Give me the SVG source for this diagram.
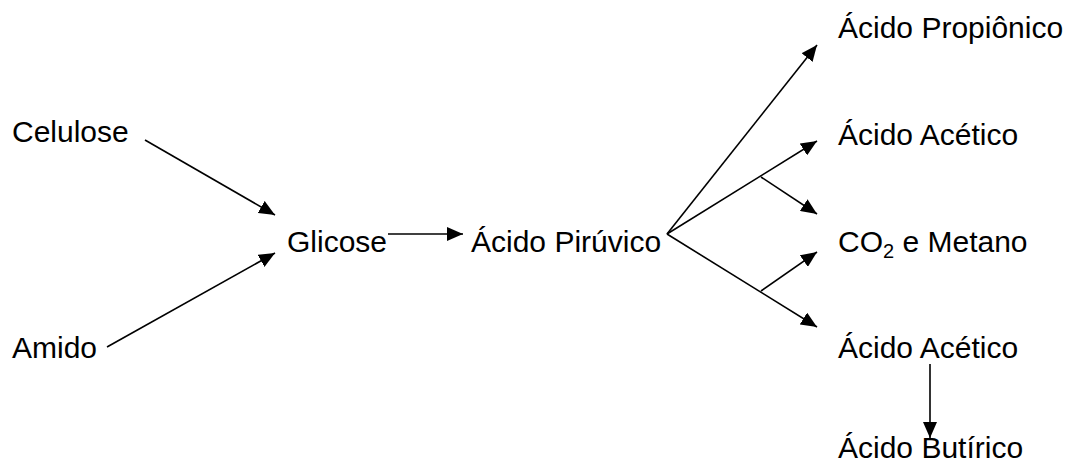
<svg xmlns="http://www.w3.org/2000/svg" width="1075" height="470" viewBox="0 0 1075 470">
<style>
text{font-family:"Liberation Sans",Arial,sans-serif;font-size:30px;fill:#000}
.c line{stroke:#000;stroke-width:1.6;marker-end:url(#a)}
</style>
<defs>
<marker id="a" markerUnits="userSpaceOnUse" markerWidth="16" markerHeight="14" viewBox="0 0 16 14" refX="16" refY="7" orient="auto">
<path d="M0,0 L16,7 L0,14 Z" fill="#000"/>
</marker>
</defs>
<rect width="1075" height="470" fill="#fff"/>
<g id="celulose"><text x="12" y="142">Celulose</text></g>
<g id="amido"><text x="12" y="358">Amido</text></g>
<g id="glicose"><text x="287" y="252">Glicose</text></g>
<g id="piruvico"><text x="471" y="252">Ácido Pirúvico</text></g>
<g id="propionico"><text x="838" y="38">Ácido Propiônico</text></g>
<g id="acetico1"><text x="838" y="145">Ácido Acético</text></g>
<g id="co2"><text x="838" y="252">CO<tspan font-size="20" dy="6">2</tspan><tspan dy="-6"> e Metano</tspan></text></g>
<g id="acetico2"><text x="838" y="358">Ácido Acético</text></g>
<g id="butirico"><text x="838" y="458">Ácido Butírico</text></g>
<g id="connectors" class="c">
<line x1="145" y1="140" x2="275" y2="215"/>
<line x1="107" y1="347" x2="275" y2="253"/>
<line x1="388" y1="234" x2="463" y2="234"/>
<line x1="667" y1="234" x2="817" y2="45"/>
<line x1="667" y1="234" x2="817" y2="141"/>
<line x1="667" y1="234" x2="817" y2="327"/>
<line x1="761" y1="177" x2="817" y2="214"/>
<line x1="761" y1="291" x2="817" y2="252"/>
<line x1="930" y1="364" x2="930" y2="438"/>
</g>
</svg>
